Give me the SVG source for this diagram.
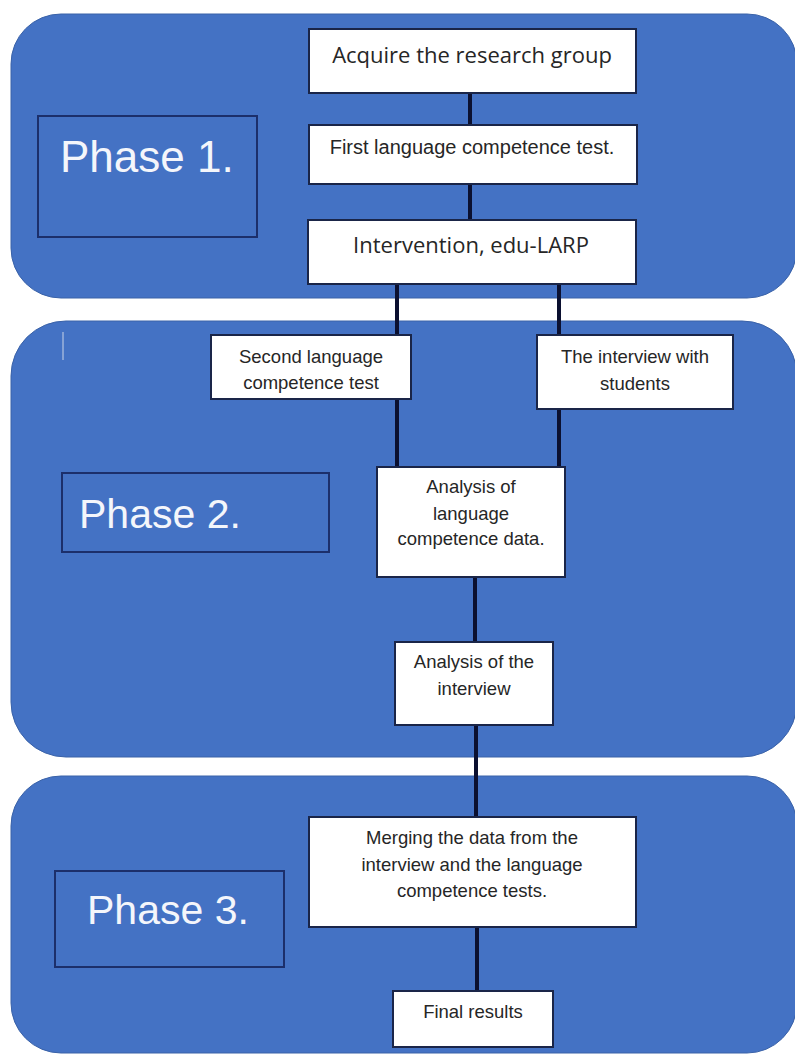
<svg xmlns="http://www.w3.org/2000/svg" width="795" height="1055" viewBox="0 0 795 1055">
<style>
.panel{fill:#4472C4;stroke:#3a62a8;stroke-width:1}
.lbl{fill:#4472C4;stroke:#1c2f6b;stroke-width:2}
.lt{font-family:"Liberation Sans",Arial,sans-serif;fill:#f4f6fb}
.box{fill:#ffffff;stroke:#1a2548;stroke-width:2}
.t{font-family:"Liberation Sans",Arial,sans-serif;font-size:18.5px;fill:#262626;text-anchor:middle}
.tb{font-family:"Open Sans","Liberation Sans",sans-serif;font-size:22px;fill:#262626;text-anchor:middle}
.c{stroke:#0b1030;stroke-width:4;fill:none}
</style>
<rect width="795" height="1055" fill="#ffffff"/>
<g id="panel1"><rect class="panel" x="11" y="14" width="786" height="284" rx="50"/></g>
<g id="panel2"><rect class="panel" x="11" y="321" width="786" height="436" rx="55"/>
<line x1="63" y1="332" x2="63" y2="360" stroke="#c9d3e6" stroke-width="1"/></g>
<g id="panel3"><rect class="panel" x="11" y="776" width="786" height="277" rx="50"/></g>

<g id="connectors">
<line class="c" x1="470" y1="93" x2="470" y2="125"/>
<line class="c" x1="470" y1="184" x2="470" y2="220"/>
<line class="c" x1="397" y1="284" x2="397" y2="335"/>
<line class="c" x1="559" y1="284" x2="559" y2="335"/>
<line class="c" x1="397" y1="399" x2="397" y2="467"/>
<line class="c" x1="559" y1="409" x2="559" y2="467"/>
<line class="c" x1="475" y1="577" x2="475" y2="642"/>
<line class="c" x1="476" y1="725" x2="476" y2="817"/>
<line class="c" x1="477" y1="927" x2="477" y2="991"/>
</g>

<g id="phase1"><rect class="lbl" x="38" y="116" width="219" height="121"/><text class="lt" x="60" y="172" font-size="44">Phase 1.</text></g>
<g id="phase2"><rect class="lbl" x="62" y="473" width="267" height="79"/><text class="lt" x="79" y="528" font-size="41">Phase 2.</text></g>
<g id="phase3"><rect class="lbl" x="55" y="871" width="229" height="96"/><text class="lt" x="87" y="924" font-size="41">Phase 3.</text></g>

<g id="acquire"><rect class="box" x="309" y="29" width="327" height="64"/><text class="tb" x="472" y="63">Acquire the research group</text></g>
<g id="first-test"><rect class="box" x="309" y="125" width="328" height="59"/><text class="t" x="472" y="154" style="font-size:20px">First language competence test.</text></g>
<g id="intervention"><rect class="box" x="308" y="220" width="328" height="64"/><text class="tb" x="471" y="253">Intervention, edu-LARP</text></g>
<g id="second-test"><rect class="box" x="211" y="335" width="200" height="64"/><text class="t" x="311" y="363">Second language</text><text class="t" x="311" y="389">competence test</text></g>
<g id="interview"><rect class="box" x="537" y="335" width="196" height="74"/><text class="t" x="635" y="363">The interview with</text><text class="t" x="635" y="390">students</text></g>
<g id="analysis-lang"><rect class="box" x="377" y="467" width="188" height="110"/><text class="t" x="471" y="493">Analysis of</text><text class="t" x="471" y="520">language</text><text class="t" x="471" y="545">competence data.</text></g>
<g id="analysis-int"><rect class="box" x="395" y="642" width="158" height="83"/><text class="t" x="474" y="668">Analysis of the</text><text class="t" x="474" y="695">interview</text></g>
<g id="merging"><rect class="box" x="309" y="817" width="327" height="110"/><text class="t" x="472" y="844">Merging the data from the</text><text class="t" x="472" y="871">interview and the language</text><text class="t" x="472" y="897">competence tests.</text></g>
<g id="final"><rect class="box" x="393" y="991" width="160" height="56"/><text class="t" x="473" y="1018">Final results</text></g>
</svg>
